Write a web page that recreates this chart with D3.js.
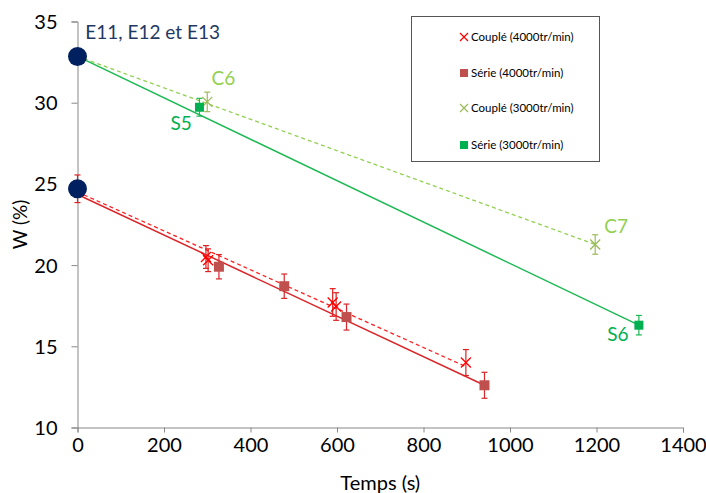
<!DOCTYPE html>
<html><head><meta charset="utf-8">
<script src="https://cdn.jsdelivr.net/npm/d3@7"></script>
<style>body{margin:0;background:#fff}svg{display:block}</style>
</head><body>
<script>
// ---- data ----
const xTicks = [0, 200, 400, 600, 800, 1000, 1200, 1400];
const yTicks = [10, 15, 20, 25, 30, 35];
const initT = [0, 0];
const initW = [32.85, 24.7];
const initErr = [0, 0.85];
const couple4000T = [297, 302, 590, 598, 898];
const couple4000W = [20.5, 20.3, 17.7, 17.45, 14.0];
const couple4000Err = [0.7, 0.7, 0.85, 0.85, 0.8];
const serie4000T = [327, 478, 622, 941];
const serie4000W = [19.9, 18.7, 16.8, 12.6];
const serie4000Err = [0.75, 0.75, 0.8, 0.8];
const couple3000T = [300, 1197];
const couple3000W = [30.05, 21.27];
const couple3000Err = [0.6, 0.6];
const serie3000T = [282, 1298];
const serie3000W = [29.72, 16.3];
const serie3000Err = [0.55, 0.6];
// trend lines [t0, w0, t1, w1]
const trendCouple4000 = [0, 24.5, 898, 13.75];
const trendSerie4000 = [0, 24.35, 941, 12.6];
const trendCouple3000 = [0, 32.85, 1197, 21.27];
const trendSerie3000 = [0, 32.85, 1298, 16.3];
const legendLabels = ["Couplé (4000tr/min)", "Série (4000tr/min)", "Couplé (3000tr/min)", "Série (3000tr/min)"];
const annotTexts = ["E11, E12 et E13", "C6", "S5", "C7", "S6"];
const annotT = [18, 310, 215, 1218, 1225];
const annotW = [33.9, 31.1, 28.3, 21.95, 15.3];

const W = 706, H = 493;
const font = "Lato, 'Open Sans', sans-serif";
const svg = d3.select("body").append("svg").attr("width", W).attr("height", H);
const x = d3.scaleLinear().domain([0, 1400]).range([77.5, 683]);
const y = d3.scaleLinear().domain([10, 35]).range([427.5, 21.5]);
const axisCol = "#888";

// axes
const xa = svg.append("g").attr("transform", `translate(0,${y(10)})`)
  .call(d3.axisBottom(x).tickValues(xTicks).tickSize(5).tickPadding(5).tickFormat(d3.format("d")));
const ya = svg.append("g").attr("transform", `translate(${x(0)},0)`)
  .call(d3.axisLeft(y).tickValues(yTicks).tickSize(6).tickPadding(14).tickFormat(d3.format("d")));
[xa, ya].forEach(g => {
  g.select(".domain").attr("stroke", axisCol);
  g.selectAll(".tick line").attr("stroke", axisCol);
  g.selectAll(".tick text").attr("fill", "#000").style("font-family", font).style("font-size", "20px");
});
ya.selectAll(".tick text").attr("dy", "0.35em");

svg.append("text").attr("x", x(700)).attr("y", 490).attr("text-anchor", "middle")
  .style("font-family", font).style("font-size", "20px").text("Temps (s)");
svg.append("text").attr("transform", `translate(27,${y(22.5)}) rotate(-90)`).attr("text-anchor", "middle")
  .style("font-family", font).style("font-size", "19px").text("W (%)");

// trend lines
function trend(t, col, dash, w) {
  svg.append("line").attr("x1", x(t[0])).attr("y1", y(t[1])).attr("x2", x(t[2])).attr("y2", y(t[3]))
    .attr("stroke", col).attr("stroke-width", w).attr("stroke-dasharray", dash);
}
trend(trendSerie3000, "#1DB954", null, 1.5);
trend(trendCouple3000, "#92D050", "4,3", 1.3);
trend(trendSerie4000, "#D9262B", null, 1.5);
trend(trendCouple4000, "#FF2020", "4,3", 1.3);

// error bars
function errs(ts, ws, es, col) {
  const g = svg.append("g").attr("stroke", col).attr("stroke-width", 1.2);
  ts.forEach((t, i) => {
    if (!es[i]) return;
    const cx = x(t), y1 = y(ws[i] + es[i]), y2 = y(ws[i] - es[i]);
    g.append("line").attr("x1", cx).attr("x2", cx).attr("y1", y1).attr("y2", y2);
    g.append("line").attr("x1", cx - 3).attr("x2", cx + 3).attr("y1", y1).attr("y2", y1);
    g.append("line").attr("x1", cx - 3).attr("x2", cx + 3).attr("y1", y2).attr("y2", y2);
  });
}
errs(initT, initW, initErr, "#E02020");
errs(couple4000T, couple4000W, couple4000Err, "#E02020");
errs(serie4000T, serie4000W, serie4000Err, "#D9262B");
errs(couple3000T, couple3000W, couple3000Err, "#9BBB59");
errs(serie3000T, serie3000W, serie3000Err, "#1DB954");

// markers
function crosses(ts, ws, col, s) {
  const g = svg.append("g").attr("stroke", col).attr("stroke-width", 1.3);
  ts.forEach((t, i) => {
    const cx = x(t), cy = y(ws[i]);
    g.append("path").attr("d", `M${cx - s},${cy - s}L${cx + s},${cy + s}M${cx - s},${cy + s}L${cx + s},${cy - s}`);
  });
}
function squares(ts, ws, col, s) {
  svg.append("g").selectAll("rect").data(ts).join("rect")
    .attr("x", d => x(d) - s).attr("y", (d, i) => y(ws[i]) - s)
    .attr("width", 2 * s).attr("height", 2 * s).attr("fill", col);
}
crosses(couple4000T, couple4000W, "#FF0000", 5);
squares(serie4000T, serie4000W, "#C0504D", 5);
crosses(couple3000T, couple3000W, "#9BBB59", 5);
squares(serie3000T, serie3000W, "#00B050", 4.5);

svg.append("g").selectAll("circle").data(initT).join("circle")
  .attr("cx", d => x(d)).attr("cy", (d, i) => y(initW[i])).attr("r", 9.5).attr("fill", "#002060");

// annotations
const annotCols = ["#1F3864", "#92D050", "#00B050", "#92D050", "#00B050"];
const annotSizes = [19, 19, 19, 19, 19];
svg.append("g").selectAll("text").data(annotTexts).join("text")
  .attr("x", (d, i) => x(annotT[i])).attr("y", (d, i) => y(annotW[i]))
  .attr("fill", (d, i) => annotCols[i]).style("font-family", font)
  .style("font-size", (d, i) => annotSizes[i] + "px").text(d => d);

// legend
const lg = svg.append("g");
lg.append("rect").attr("x", 411.5).attr("y", 16.5).attr("width", 188).attr("height", 145)
  .attr("fill", "#fff").attr("stroke", "#555").attr("stroke-width", 1);
const legRowY = [37, 73, 108, 145];
const legCols = ["#FF0000", "#C0504D", "#9BBB59", "#00B050"];
legendLabels.forEach((lab, i) => {
  const cx = 464, cy = legRowY[i];
  if (i % 2 === 0) {
    lg.append("path").attr("d", `M${cx - 4},${cy - 4}L${cx + 4},${cy + 4}M${cx - 4},${cy + 4}L${cx + 4},${cy - 4}`)
      .attr("stroke", legCols[i]).attr("stroke-width", 1.2);
  } else {
    lg.append("rect").attr("x", cx - 4).attr("y", cy - 4).attr("width", 8).attr("height", 8).attr("fill", legCols[i]);
  }
  lg.append("text").attr("x", 471).attr("y", cy).attr("dy", "0.35em")
    .style("font-family", font).style("font-size", "11.5px").attr("fill", "#000").text(lab);
});
</script>
</body></html>
